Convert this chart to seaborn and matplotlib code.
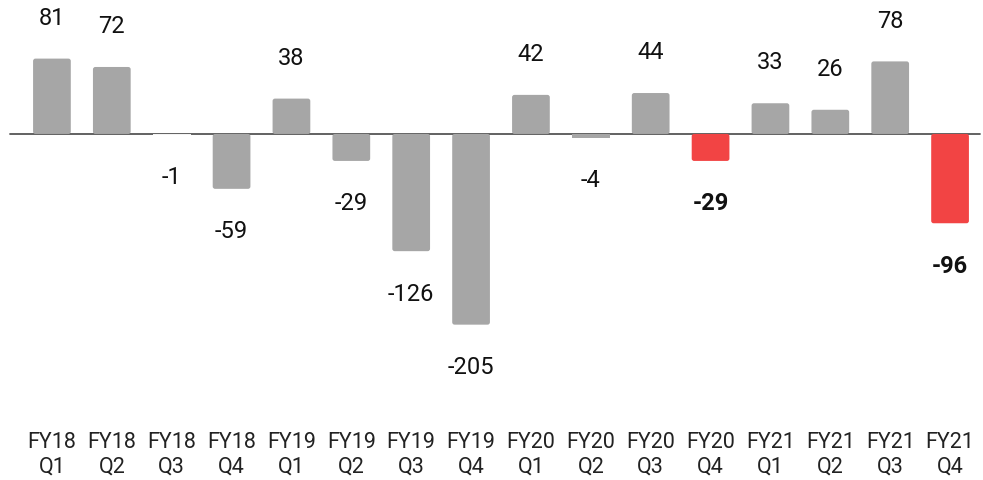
import matplotlib
matplotlib.use("Agg")
import matplotlib.pyplot as plt
from matplotlib.patches import FancyBboxPatch
import seaborn as sns
import pandas as pd

sns.set_theme(style="white")
plt.rcParams['font.family'] = ['Roboto', 'DejaVu Sans']

quarters = ["FY18\nQ1", "FY18\nQ2", "FY18\nQ3", "FY18\nQ4",
            "FY19\nQ1", "FY19\nQ2", "FY19\nQ3", "FY19\nQ4",
            "FY20\nQ1", "FY20\nQ2", "FY20\nQ3", "FY20\nQ4",
            "FY21\nQ1", "FY21\nQ2", "FY21\nQ3", "FY21\nQ4"]
values = [81, 72, -1, -59, 38, -29, -126, -205, 42, -4, 44, -29, 33, 26, 78, -96]
highlight = [False] * 11 + [True] + [False] * 3 + [True]

GRAY = "#a6a6a6"
RED = "#f24444"
LIGHT = "#f4f4f4"
colors = []
for v, h in zip(values, highlight):
    if h:
        colors.append(RED)
    elif abs(v) <= 1:
        colors.append(LIGHT)
    else:
        colors.append(GRAY)

df = pd.DataFrame({"quarter": quarters, "value": values})

fig = plt.figure(figsize=(9.83, 4.8), dpi=100)
ax = fig.add_axes([22 / 983, 80 / 480, 958 / 983, 400 / 480])

ax.axhline(0, xmin=-12 / 958, xmax=1.0, color="#555555", linewidth=1.3,
           zorder=1, clip_on=False)
sns.barplot(data=df, x="quarter", y="value", hue="quarter", palette=colors,
            legend=False, width=0.63, ax=ax, zorder=2, saturation=1,
            linewidth=0)

ax.set_ylim(-286, 144)
ax.set_xlim(-0.5, len(values) - 0.5)

# soften bar corners slightly (as in the reference)
px_per_x = 958 / len(values)
px_per_y = 400 / (144 + 286)
aspect = (1 / px_per_y) / (1 / px_per_x)
for p in list(ax.patches):
    x, y = p.get_x(), p.get_y()
    w, h = p.get_width(), p.get_height()
    if abs(h) * px_per_y < 8:
        continue
    fc = p.get_facecolor()
    y0, hh = (y, h) if h >= 0 else (y + h, -h)
    fb = FancyBboxPatch((x, y0), w, hh,
                        boxstyle="round,pad=0,rounding_size=0.04",
                        mutation_aspect=aspect, facecolor=fc,
                        edgecolor="none", zorder=2)
    p.set_visible(False)
    ax.add_patch(fb)

for s in ax.spines.values():
    s.set_visible(False)
ax.set_yticks([])
ax.set_xlabel("")
ax.set_ylabel("")
ax.tick_params(axis="x", length=0, pad=23, labelsize=15.5, colors="#222222")
for lbl in ax.get_xticklabels():
    lbl.set_linespacing(1.2)

for i, (v, h) in enumerate(zip(values, highlight)):
    off = 29 if v > 0 else -31
    ax.annotate(str(v), xy=(i, v), xytext=(0, off), textcoords="offset points",
                ha="center", va="center", fontsize=17,
                fontweight="bold" if h else "normal", color="#111111")

fig.savefig("out.png", dpi=100, facecolor="white")
